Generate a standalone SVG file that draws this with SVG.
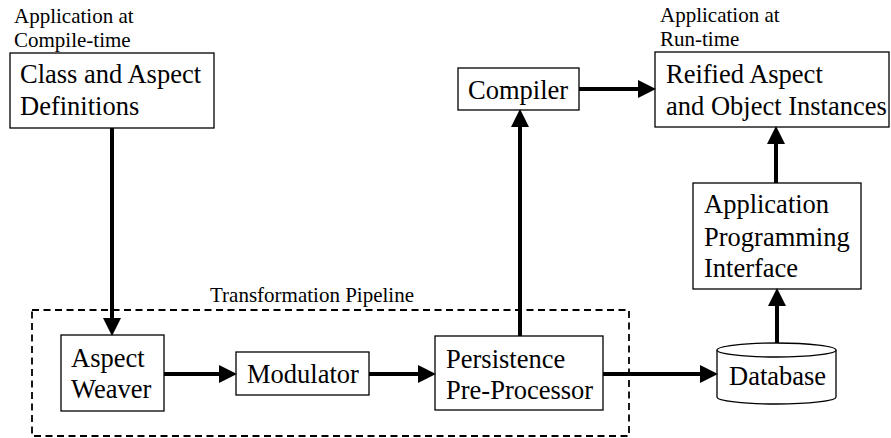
<svg xmlns="http://www.w3.org/2000/svg" width="891" height="438" viewBox="0 0 891 438">
<style>
  .box { fill: #fff; stroke: #000; stroke-width: 1.3; }
  .t { font-family: 'Liberation Serif', 'DejaVu Serif', 'Noto Serif', Tinos, Times, serif; font-size: 26.5px; fill: #000; }
  .s { font-family: 'Liberation Serif', 'DejaVu Serif', 'Noto Serif', Tinos, Times, serif; font-size: 21px; fill: #000; }
  .arr { stroke: #000; stroke-width: 4; fill: none; marker-end: url(#ah); }
  .dash { fill: none; stroke: #000; stroke-width: 1.8; stroke-dasharray: 7 4.5; }
</style>
<defs>
  <marker id="ah" markerUnits="userSpaceOnUse" markerWidth="18" markerHeight="18" viewBox="0 0 17 17" refX="1" refY="8.5" orient="auto">
    <path d="M0,0 L17,8.5 L0,17 z" fill="#000"/>
  </marker>
</defs>
<rect width="891" height="438" fill="#fff"/>

<g id="pipeline">
  <rect class="dash" x="32" y="310" width="597" height="126"/>
  <text class="s" x="210" y="302">Transformation Pipeline</text>
</g>

<g id="labels">
  <text class="s" x="14" y="23">Application at</text>
  <text class="s" x="14" y="47">Compile-time</text>
  <text class="s" x="660" y="22">Application at</text>
  <text class="s" x="660" y="46">Run-time</text>
</g>

<g id="class-defs">
  <rect class="box" x="10" y="53" width="204" height="75"/>
  <text class="t" x="20" y="83">Class and Aspect</text>
  <text class="t" x="20" y="115">Definitions</text>
</g>

<g id="aspect-weaver">
  <rect class="box" x="61" y="335" width="103" height="76"/>
  <text class="t" x="71" y="367">Aspect</text>
  <text class="t" x="71" y="398">Weaver</text>
</g>

<g id="modulator">
  <rect class="box" x="236" y="352" width="133" height="43"/>
  <text class="t" x="247" y="383">Modulator</text>
</g>

<g id="persistence">
  <rect class="box" x="435" y="336" width="168" height="74"/>
  <text class="t" x="446" y="368">Persistence</text>
  <text class="t" x="446" y="399">Pre-Processor</text>
</g>

<g id="compiler">
  <rect class="box" x="458" y="68" width="121" height="42"/>
  <text class="t" x="468" y="99">Compiler</text>
</g>

<g id="reified">
  <rect class="box" x="655" y="52" width="234" height="75"/>
  <text class="t" x="666" y="83">Reified Aspect</text>
  <text class="t" x="666" y="115">and Object Instances</text>
</g>

<g id="api">
  <rect class="box" x="693" y="183" width="168" height="106"/>
  <text class="t" x="704" y="213">Application</text>
  <text class="t" x="704" y="246">Programming</text>
  <text class="t" x="704" y="277">Interface</text>
</g>

<g id="database">
  <path class="box" d="M717,350 L717,397 A59.5,7 0 0 0 836,397 L836,350"/>
  <ellipse class="box" cx="776.5" cy="350" rx="59.5" ry="7"/>
  <text class="t" x="729" y="385">Database</text>
</g>

<g id="connectors">
  <line class="arr" x1="112" y1="128" x2="112" y2="319"/>
  <line class="arr" x1="164" y1="374" x2="220" y2="374"/>
  <line class="arr" x1="369" y1="374" x2="419" y2="374"/>
  <line class="arr" x1="520" y1="336" x2="520" y2="126"/>
  <line class="arr" x1="579" y1="89" x2="639" y2="89"/>
  <line class="arr" x1="603" y1="374" x2="701" y2="374"/>
  <line class="arr" x1="777" y1="343" x2="777" y2="305"/>
  <line class="arr" x1="776" y1="183" x2="776" y2="143"/>
</g>
</svg>
